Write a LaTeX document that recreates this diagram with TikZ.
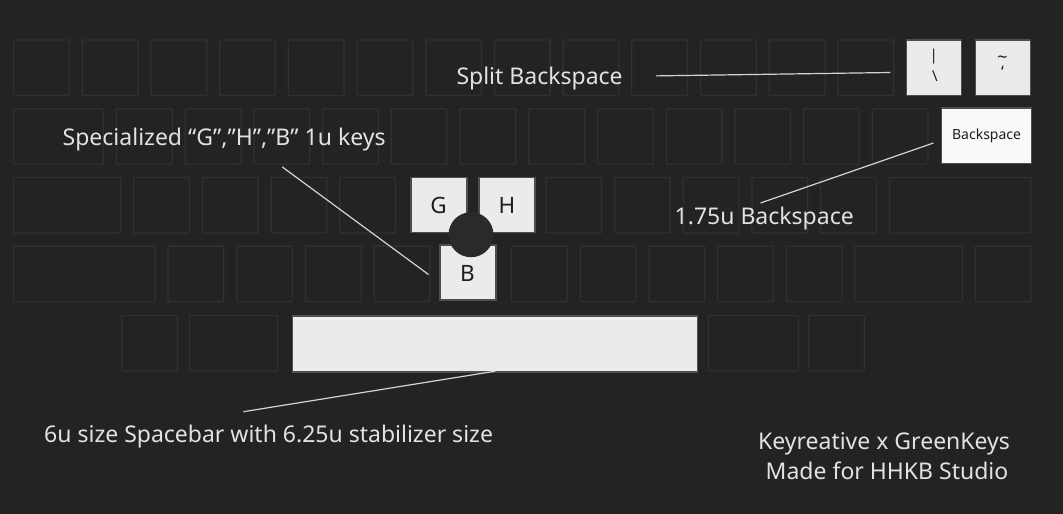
\documentclass[tikz,border=0pt]{standalone}
\usepackage{fontspec}
\setmainfont{Noto Sans}
\definecolor{bg}{HTML}{232323}
\definecolor{keyline}{HTML}{303030}
\definecolor{capfill}{HTML}{EBEBEB}
\definecolor{bsfill}{HTML}{F9F9F9}
\definecolor{capline}{HTML}{4E4E4E}
\definecolor{txt}{HTML}{E2E2E2}
\definecolor{leadcol}{HTML}{D4D4D4}
\definecolor{hub}{HTML}{2A2A2A}
\definecolor{legendcol}{HTML}{1E1E1E}
\tikzset{
  darkkey/.style={draw=keyline, line width=1.3pt, inner sep=0pt, outer sep=0pt, anchor=north west, rounded corners=1pt, minimum height=55.5pt},
  onekey/.style={darkkey, minimum width=55.7pt},
  lightkey/.style={draw=capline, fill=capfill, line width=1.4pt, inner sep=0pt, outer sep=0pt, anchor=north west},
  annot/.style={text=txt, inner sep=0pt, font=\fontsize{23}{28}\selectfont},
  leader/.style={draw=leadcol, line width=1.2pt},
  legend/.style={text=legendcol, inner sep=0pt},
}
\begin{document}
\begin{tikzpicture}[x=1pt,y=-1pt]
\useasboundingbox (0,0) rectangle (1063,514);
\fill[bg] (0,0) rectangle (1063,514);

% ---- row 0 ----
\foreach \c in {0,...,12}
  \node[onekey] (r0k\c) at ({13.5+\c*68.7},40) {};
% ---- row 1 ----
\node[darkkey, minimum width=90.05pt] (tab) at (13.5,108.7) {};
\foreach \i in {0,...,11}
  \node[onekey] (r1k\i) at ({13.5+(1.5+\i)*68.7},108.7) {};
% ---- row 2 ----
\node[darkkey, minimum width=107.2pt] (ctrl) at (13.5,177.4) {};
\foreach \i in {0,1,2,3,6,7,8,9,10}
  \node[onekey] (r2k\i) at ({13.5+(1.75+\i)*68.7},177.4) {};
\node[darkkey, minimum width=141.6pt] (ret) at ({13.5+12.75*68.7},177.4) {};
% ---- row 3 ----
\node[darkkey, minimum width=141.6pt] (lshift) at (13.5,246.1) {};
\foreach \i in {0,1,2,3,5,6,7,8,9}
  \node[onekey] (r3k\i) at ({13.5+(2.25+\i)*68.7},246.1) {};
\node[darkkey, minimum width=107.2pt] (rshift) at ({13.5+12.25*68.7},246.1) {};
\node[onekey] (fn) at ({13.5+14*68.7},246.1) {};
% ---- row 4 ----
\node[onekey] (lalt) at (121.7,315.4) {};
\node[darkkey, minimum width=88pt] (lcmd) at (189.5,315.4) {};
\node[darkkey, minimum width=90pt] (rcmd) at (708.5,315.4) {};
\node[onekey] (ralt) at (808.5,315.4) {};

% ---- highlighted keys ----
\node[lightkey, minimum width=55pt, minimum height=55.5pt] (bslash) at (906.7,40) {};
\node[lightkey, minimum width=55pt, minimum height=55.5pt] (tilde) at (975.5,40) {};
\node[lightkey, fill=bsfill, minimum width=89.8pt, minimum height=55.5pt] (bksp) at (941.7,108) {};
\node[lightkey, minimum width=56pt, minimum height=55pt] (gkey) at (411,177.3) {};
\node[lightkey, minimum width=56pt, minimum height=55pt] (hkey) at (479,177.3) {};
\node[lightkey, minimum width=56pt, minimum height=55pt] (bkey) at (440,245) {};
\node[lightkey, minimum width=405.2pt, minimum height=56pt] (space) at (292.4,316) {};

% hub circle
\node[circle, fill=hub, minimum size=45pt, inner sep=0pt] (hubc) at (471,234.7) {};

% legends
\node[legend, font=\fontsize{22.5}{26}\selectfont] (glab) at (438.5,205.2) {G};
\node[legend, font=\fontsize{22.5}{26}\selectfont] (hlab) at (507,205.2) {H};
\node[legend, font=\fontsize{22.5}{26}\selectfont] (blab) at (467.5,273) {B};
\node[legend, font=\fontsize{14}{16}\selectfont] (bklab) at (bksp.center) {Backspace};
\node[legend, font=\fontsize{15}{16}\selectfont] (pipe) at (933.8,57) {|};
\node[legend, font=\fontsize{15}{16}\selectfont] (bsl) at (935,76.5) {\textbackslash};
\node[legend, font=\fontsize{18}{16}\selectfont] (tld) at (1002.5,59.5) {\char"007E};
\node[legend, font=\fontsize{16}{16}\selectfont] (grv) at (1002.5,72) {\char"0060};

% annotations
\node[annot, anchor=base west] (tsplit) at (456.3,84) {Split Backspace};
\node[annot, anchor=base west] (tspec) at (62.5,145) {Specialized “G”,”H”,”B” 1u keys};
\node[annot, anchor=base west] (tbk) at (674.5,224.4) {1.75u Backspace};
\node[annot, anchor=base west] (tspace) at (44,442) {6u size Spacebar with 6.25u stabilizer size};
\node[annot, anchor=base] (tcred1) at (884,449) {Keyreative x GreenKeys};
\node[annot, anchor=base] (tcred2) at (887,479.6) {Made for HHKB Studio};

% leader lines
\coordinate (sbA) at (656,75.9);
\coordinate (sbB) at (890.3,72.5);
\draw[leader] (sbA) -- (sbB);
\coordinate (spA) at (282.2,166.9);
\coordinate (spB) at (428.5,274.5);
\draw[leader] (spA) -- (spB);
\coordinate (bkA) at (760.5,203);
\coordinate (bkB) at (933.5,143);
\draw[leader] (bkA) -- (bkB);
\coordinate (sbarA) at (243.4,411.7);
\coordinate (sbarB) at (495.2,371.2);
\draw[leader] (sbarA) -- (sbarB);
\end{tikzpicture}
\end{document}
